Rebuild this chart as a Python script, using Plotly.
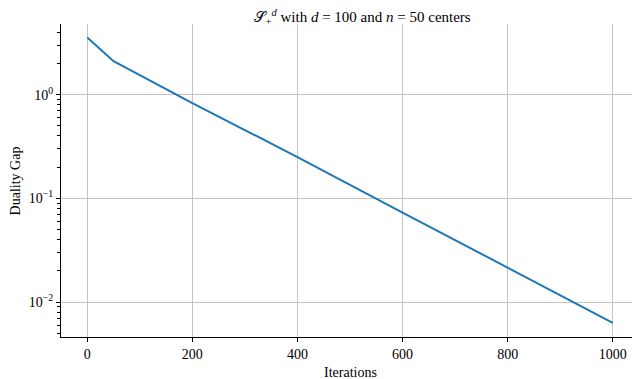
import plotly.graph_objects as go

# values
iterations = [0, 50, 200, 400, 600, 800, 1000]
duality_gap = [3.55, 2.1, 0.83, 0.25, 0.073, 0.0215, 0.0063]

ytick_vals = [1, 0.1, 0.01]
ytick_text = ["10<sup>0</sup>", "10<sup>\u22121</sup>", "10<sup>\u22122</sup>"]
xtick_vals = [0, 200, 400, 600, 800, 1000]

# minor ticks at 2..9 of every decade shown
minor_vals = [m * 10.0 ** e for e in (-3, -2, -1, 0) for m in range(2, 10)]

serif = "Liberation Serif, DejaVu Serif, serif"

fig = go.Figure()
fig.add_trace(go.Scatter(x=iterations, y=duality_gap, mode="lines",
                         line=dict(color="#1f77b4", width=2)))

# the page body adds an 8px margin, so the figure is 8px smaller
fig.update_layout(
    width=632, height=371,
    margin=dict(l=53, r=1, t=16, b=42),
    plot_bgcolor="white", paper_bgcolor="white",
    showlegend=False,
    font=dict(family=serif, size=14, color="black"),
    title=dict(text="\U0001D4AE<sub>+</sub><sup><i>d</i></sup> with <i>d</i> = 100 and <i>n</i> = 50 centers",
               xref="paper", x=0.521, xanchor="center", y=0.976, yanchor="middle",
               font=dict(family=serif, size=15)),
)
fig.add_annotation(text="Iterations", xref="paper", yref="paper", x=0.5, y=-0.112,
                   xanchor="center", yanchor="middle", showarrow=False,
                   font=dict(family=serif, size=14))
fig.add_annotation(text="Duality Gap", xref="paper", yref="paper", x=-0.078, y=0.5,
                   xanchor="center", yanchor="middle", textangle=-90, showarrow=False,
                   font=dict(family=serif, size=14))
fig.update_xaxes(
    range=[-50, 1050], tickvals=xtick_vals, automargin=False,
    showline=True, linecolor="black", linewidth=1.2,
    ticks="outside", ticklen=4, tickcolor="black", tickfont=dict(size=14),
    showgrid=True, gridcolor="#c4c4c4", gridwidth=1.2,
    zeroline=False,
)
fig.update_yaxes(
    type="log", range=[-2.337, 0.681], automargin=False,
    tickvals=ytick_vals, ticktext=ytick_text,
    showline=True, linecolor="black", linewidth=1.2,
    ticks="outside", ticklen=4, tickcolor="black", tickfont=dict(size=14),
    showgrid=True, gridcolor="#c4c4c4", gridwidth=1.2,
    minor=dict(tickvals=minor_vals, ticks="outside", ticklen=2.5,
               tickcolor="black", showgrid=False),
    zeroline=False,
)

fig.write_html("out.html")
